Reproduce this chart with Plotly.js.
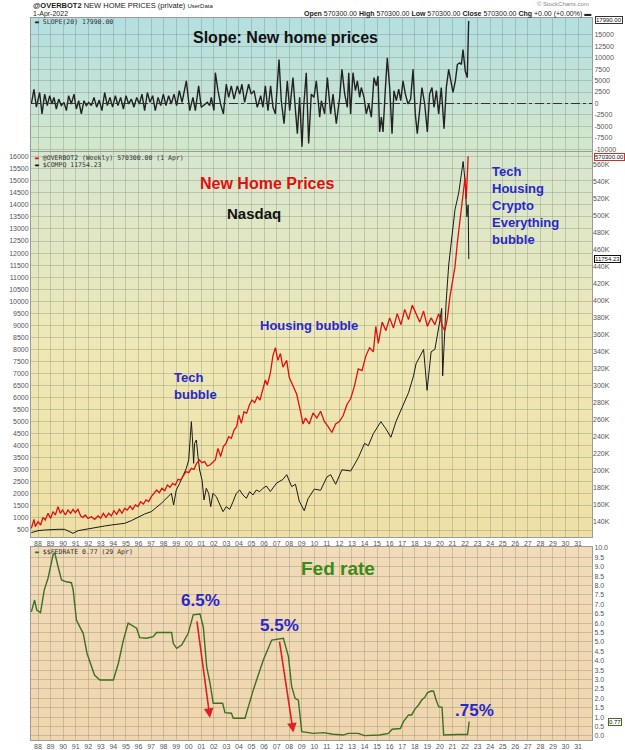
<!DOCTYPE html>
<html><head><meta charset="utf-8">
<script src="https://cdn.plot.ly/plotly-3.0.1.min.js"></script>
<style>html,body{margin:0;padding:0;background:#fff}#chart{width:625px;height:750px}</style>
</head><body><div id="chart"></div>
<script>
// ---------- DATA ----------
const slopeYears = [1987.47,1987.68,1987.87,1988.13,1988.32,1988.53,1988.74,1988.93,1989.11,1989.27,1989.46,1989.65,1989.86,1990.07,1990.26,1990.44,1990.65,1990.87,1991.05,1991.24,1991.45,1991.66,1991.85,1992.03,1992.25,1992.46,1992.67,1992.88,1993.09,1993.31,1993.52,1993.73,1993.94,1994.16,1994.37,1994.58,1994.80,1995.01,1995.22,1995.43,1995.64,1995.86,1996.07,1996.28,1996.49,1996.71,1996.92,1997.13,1997.34,1997.56,1997.77,1997.98,1998.19,1998.40,1998.61,1998.83,1999.04,1999.25,1999.47,
1999.81,2000.08,2000.34,2000.53,2000.79,2001.00,2001.27,2001.48,2001.67,2001.80,2002.01,2002.12,2002.33,2002.54,2002.76,2002.99,2003.18,2003.39,2003.61,2003.87,2004.06,2004.24,2004.45,2004.77,2004.98,2005.20,2005.46,2005.73,2005.91,2006.10,2006.31,2006.52,2006.71,2006.90,2007.19,2007.37,2007.59,2007.85,2008.04,2008.30,2008.44,2008.65,2008.83,2009.02,2009.15,2009.36,2009.55,2009.76,2009.97,2010.16,2010.43,2010.56,2010.82,2011.04,
2011.30,2011.49,2011.75,2012.02,2012.20,2012.42,2012.63,2012.74,2012.89,2013.08,2013.27,2013.43,2013.61,2013.74,2013.96,2014.14,2014.33,2014.54,2014.75,2014.94,2015.07,2015.20,2015.34,2015.47,2015.65,2015.81,2016.00,2016.19,2016.34,2016.53,2016.72,2016.88,2017.06,2017.25,2017.46,2017.67,2017.86,2018.04,2018.20,2018.39,2018.57,2018.79,2019.00,2019.18,2019.37,2019.53,2019.72,2019.90,2020.11,2020.33,2020.51,2020.70,2020.86,2021.04,2021.23,2021.39,2021.57,2021.71,2021.84,2022.02,2022.18,2022.29];
const slopeValues = [-100,3100,-800,2400,-2250,2050,-450,1700,-100,1330,-1200,970,-450,250,-1550,1700,-100,2050,-1200,600,-2250,600,-450,250,-450,1330,-800,750,-1550,2400,-450,1330,-800,1700,-450,1330,-1200,1700,-100,970,-800,1330,-100,2050,-1550,2400,250,1700,-1550,1330,-450,2050,-450,1700,-100,2050,-450,2800,250,
4920,-1545,1330,-1545,3843,-826,-108,250,-467,1330,-1545,6717,2800,-108,-2263,4200,1330,3843,970,3843,2047,4200,250,4200,2047,2800,-826,1690,-826,3843,-1545,3843,-826,-2263,9590,610,-4418,4920,-1545,5640,610,-6573,1330,-9440,-826,6717,-8728,2047,1330,4920,-2980,610,-2263,5640,
-2263,2047,-4418,1330,7435,2047,-826,6717,-2263,6717,2800,4920,1330,3485,1330,-2263,-108,-2980,5640,3843,6000,-6214,-2980,-6214,2800,9950,3485,-6573,2800,610,3125,610,4920,2047,-108,970,7435,-2263,-6573,-826,3485,-108,-6214,2047,3485,-826,2800,-2263,3485,-5495,3485,7435,4920,2410,4920,8500,8870,8512,11745,7076,5640,17990];

const homeYears = [1987.47,1987.68,1987.79,1988.00,1988.21,1988.40,1988.58,1988.80,1989.01,1989.19,1989.38,1989.59,1989.78,1989.96,1990.18,1990.39,1990.60,1990.79,1990.97,1991.18,1991.40,1991.58,1991.77,1991.98,1992.25,1992.51,1992.78,1992.99,1993.20,1993.41,1993.63,1993.84,1994.05,1994.26,1994.48,1994.69,1994.90,1995.11,1995.33,1995.54,1995.75,1995.96,1996.17,1996.39,1996.60,1996.81,1997.02,1997.24,1997.45,1997.66,1997.87,1998.09,1998.30,1998.51,1998.72,1998.93,1999.15,1999.36,1999.57,1999.78,2000.00,2000.21,2000.42,2000.63,2000.85,2001.06,2001.27,2001.48,2001.69,2001.91,2002.12,2002.33,2002.54,2002.76,2002.97,2003.18,2003.39,2003.61,2003.82,2003.98,2004.19,2004.40,2004.61,2004.83,2005.04,2005.25,2005.46,2005.68,2005.89,2006.10,2006.26,
2006.50,2006.70,2006.90,2007.10,2007.30,2007.50,2007.80,2008.00,2008.30,2008.60,2008.90,2009.10,2009.30,2009.60,2009.90,2010.20,2010.50,2010.80,2011.10,2011.40,2011.70,2012.00,2012.30,2012.60,2012.90,2013.20,2013.50,2013.80,2014.10,2014.40,2014.70,2014.90,2015.10,2015.40,2015.70,2016.00,2016.30,2016.60,2016.90,2017.20,2017.50,2017.80,2018.10,2018.40,2018.70,2019.00,2019.30,2019.60,2019.90,2020.20,2020.40,2020.60,2020.80,2021.00,2021.20,2021.40,2021.60,2021.80,2022.00,2022.10,2022.20,2022.25];
const homePrices = [132200,142770,134140,140030,136100,145130,141990,149840,143950,151800,147880,157690,149840,153760,147880,153760,149840,154550,150630,154550,146700,145130,147880,143950,145910,142770,146700,143950,149840,145130,149840,146700,152980,148660,154550,149840,155730,153760,158480,154550,159650,157690,163580,160830,165540,163580,169460,173390,177310,174170,179280,176520,183200,180450,185160,183200,189870,189090,193800,198900,197720,202830,201650,208710,212640,209500,210680,205570,206750,209500,212640,226380,216560,228340,232260,240110,238150,248000,251890,265630,255810,269550,267590,277400,283290,280150,287210,283290,295070,306840,300950,
315000,335000,345000,330000,338000,322000,330000,310000,300000,290000,270000,255000,262000,255000,268000,262000,270000,258000,252000,245000,255000,258000,265000,278000,285000,300000,320000,318000,335000,345000,340000,370000,350000,375000,365000,380000,368000,385000,372000,390000,378000,395000,385000,375000,388000,370000,380000,372000,385000,370000,365000,380000,405000,425000,440000,470000,495000,515000,545000,520000,565000,570300];

const nasdaqYears = [1987.47,1988.00,1988.53,1989.06,1989.59,1990.12,1990.39,1990.79,1991.19,1991.72,1992.25,1992.78,1993.31,1993.84,1994.37,1994.90,1995.43,1995.96,1996.49,1997.02,1997.55,1997.82,1998.09,1998.35,1998.62,1998.80,1999.01,1999.28,1999.54,1999.81,2000.00,2000.13,2000.21,2000.29,2000.39,2000.47,2000.61,2000.74,2000.87,2001.06,2001.22,2001.40,2001.59,2001.75,2001.93,2002.20,2002.46,2002.73,2002.99,2003.26,2003.53,2003.79,2004.06,2004.32,2004.59,2004.85,2005.12,2005.38,2005.65,2005.91,2006.18,
2006.50,2007.00,2007.50,2007.80,2008.20,2008.50,2008.80,2009.20,2009.50,2010.00,2010.50,2011.00,2011.30,2011.70,2012.20,2012.90,2013.50,2014.00,2014.30,2014.70,2015.30,2015.70,2016.10,2016.50,2017.00,2017.50,2017.90,2018.10,2018.70,2018.98,2019.30,2019.60,2020.00,2020.14,2020.22,2020.50,2020.70,2021.00,2021.20,2021.50,2021.85,2022.00,2022.15,2022.25,2022.30];
const nasdaqValues = [390,473,501,529,529,529,473,363,473,529,570,612,667,708,736,778,889,1027,1165,1262,1470,1608,1747,1885,2024,1539,2162,2439,2715,3061,3407,4376,5000,4376,3269,4099,4238,3546,2992,2577,1747,2231,2024,1470,2024,1885,1608,1262,1470,1359,1677,2024,2162,1954,1816,2093,1954,2162,2093,2231,2328,
2100,2450,2600,2800,2300,2400,1700,1300,1800,2200,2150,2700,2800,2400,3000,2950,3500,4100,4000,4500,5000,4700,4350,5000,5600,6200,6900,7400,8000,6300,7900,8000,9200,9700,6900,10000,11500,13000,13800,14500,15800,15000,13500,14000,11754];

const fedYears = [1987.47,1987.73,1987.90,1988.20,1988.50,1988.80,1989.20,1989.33,1989.60,1989.87,1990.26,1990.66,1990.80,1991.06,1991.33,1991.60,1991.90,1992.26,1992.50,1992.92,1994.00,1994.40,1994.80,1995.18,1995.45,1995.85,1996.10,1996.64,1997.17,1997.44,1998.64,1998.77,1999.04,1999.44,1999.96,2000.36,2000.90,2001.16,2001.43,2001.70,2001.95,2002.70,2002.89,2003.40,2003.55,2004.48,2005.14,2005.94,2006.61,2007.54,2007.94,2008.20,2008.47,2008.73,2009.00,2009.93,2010.74,2011.50,2012.30,2012.70,2013.50,2014.00,2015.20,2015.90,2016.20,2016.85,2017.10,2017.50,2017.75,2018.00,2018.30,2018.55,2018.80,2019.00,2019.30,2019.50,2019.70,2019.90,2020.17,2020.30,2021.50,2022.20,2022.25,2022.33];
const fedRates = [6.6,7.23,6.7,6.56,7.77,8.39,9.63,9.75,9.0,8.3,8.2,8.15,7.77,6.17,5.8,5.46,4.4,3.69,3.24,2.98,2.98,3.87,5.1,6.0,5.9,5.73,5.23,5.2,5.28,5.5,5.5,4.93,4.66,4.84,5.46,6.44,6.49,5.81,3.69,2.8,1.74,1.74,1.24,1.21,0.94,0.94,2.45,4.04,5.1,5.2,4.22,2.62,2.0,1.91,0.23,0.14,0.18,0.09,0.05,0.14,0.14,0.02,0.05,0.14,0.36,0.4,0.76,1.12,1.12,1.42,1.65,1.91,2.06,2.3,2.39,2.38,1.91,1.56,1.53,0.05,0.08,0.08,0.33,0.77];

const yearTicks = [1988,1989,1990,1991,1992,1993,1994,1995,1996,1997,1998,1999,2000,2001,2002,2003,2004,2005,2006,2007,2008,2009,2010,2011,2012,2013,2014,2015,2016,2017,2018,2019,2020,2021,2022,2023,2024,2025,2026,2027,2028,2029,2030,2031];
const yearLabels = ['88','89','90','91','92','93','94','95','96','97','98','99','00','01','02','03','04','05','06','07','08','09','10','11','12','13','14','15','16','17','18','19','20','21','22','23','24','25','26','27','28','29','30','31'];
const slopeTicks = [-10000,-7500,-5000,-2500,0,2500,5000,7500,10000,12500,15000];
const slopeTickLabels = ['-10000','-7500','-5000','-2500','0','2500','5000','7500','10000','12500','15000'];
const homeTicks = [140000,160000,180000,200000,220000,240000,260000,280000,300000,320000,340000,360000,380000,400000,420000,440000,460000,480000,500000,520000,540000,560000];
const homeTickLabels = ['140K','160K','180K','200K','220K','240K','260K','280K','300K','320K','340K','360K','380K','400K','420K','440K','460K','480K','500K','520K','540K','560K'];

// ---------- STYLE ----------
const XR = [1987.443, 2032.11];
const GRID = 'rgba(105,110,95,0.28)';
const TF = {family:'Liberation Sans, Arial, sans-serif', size:7, color:'#555'};
const BLUE = '#2828c8';
function grad(c1, c2, c3){
  const s = "<svg xmlns='http://www.w3.org/2000/svg' width='10' height='100' viewBox='0 0 10 100' preserveAspectRatio='none'><defs><linearGradient id='g' x1='0' y1='0' x2='0' y2='1'><stop offset='0' stop-color='"+c1+"'/><stop offset='0.5' stop-color='"+c2+"'/><stop offset='1' stop-color='"+c3+"'/></linearGradient></defs><rect width='10' height='100' fill='url(#g)'/></svg>";
  return 'data:image/svg+xml;charset=utf-8,' + encodeURIComponent(s);
}
const D_TOP = [0.7987, 0.976], D_MID = [0.284, 0.7973], D_BOT = [0.01333, 0.27067];

const xBase = {range:XR, tickvals:yearTicks, ticktext:yearLabels, showgrid:true, gridcolor:GRID, gridwidth:1,
  tickfont:TF, ticks:'', showline:true, mirror:true, linecolor:'#9a9a9a', linewidth:1, zeroline:false, fixedrange:true};

const traces = [
  {x:slopeYears, y:slopeValues, xaxis:'x3', yaxis:'y4', type:'scatter', mode:'lines', line:{color:'#222', width:1.4}, hoverinfo:'skip'},
  {x:nasdaqYears, y:nasdaqValues, xaxis:'x2', yaxis:'y2', type:'scatter', mode:'lines', line:{color:'#1a1a1a', width:1}, hoverinfo:'skip'},
  {x:homeYears, y:homePrices, xaxis:'x2', yaxis:'y3', type:'scatter', mode:'lines', line:{color:'#e01010', width:1.3}, hoverinfo:'skip'},
  {x:fedYears, y:fedRates, xaxis:'x', yaxis:'y', type:'scatter', mode:'lines', line:{color:'#3f6f22', width:1.4}, hoverinfo:'skip'}
];

function px2x(px){return (px-31)/561;}
function py2y(py){return 1-py/750;}
function txt(text, px, py, opt){
  return Object.assign({text:text, x:px2x(px), y:py2y(py), xref:'paper', yref:'paper', showarrow:false,
    xanchor:'left', yanchor:'middle', font:{family:'Liberation Sans, Arial, sans-serif', size:7, color:'#222'}}, opt||{});
}
const BF = (size,color)=>({family:'Liberation Sans, Arial, sans-serif', size:size, color:color, weight:'bold'});
const TAG = (c)=>({xanchor:'center', bgcolor:'#fff', bordercolor:c, borderwidth:1, borderpad:0, font:{family:'Liberation Sans, Arial, sans-serif', size:6, color:'#111'}});

const annotations = [
  txt("<b>@OVERBOT2</b> NEW HOME PRICES (private) <span style='font-size:6px'>UserData</span>", 31, 5, {font:{family:'Liberation Sans, Arial, sans-serif', size:7.5, color:'#222'}}),
  txt("1-Apr-2022", 31, 14),
  txt("© StockCharts.com", 591, 4, {xanchor:'right', font:{family:'Liberation Sans, Arial, sans-serif', size:6, color:'#888'}}),
  txt("<b>Open</b> 570300.00 <b>High</b> 570300.00 <b>Low</b> 570300.00 <b>Close</b> 570300.00 <b>Chg</b> +0.00 (+0.00%) ▬", 593, 14, {xanchor:'right'}),
  txt("<b>Slope: New home prices</b>", 285, 37, {xanchor:'center', font:BF(16,'#111')}),
  txt("<b>New Home Prices</b>", 267, 183, {xanchor:'center', font:BF(16,'#e01010')}),
  txt("<b>Nasdaq</b>", 254, 213, {xanchor:'center', font:BF(15,'#111')}),
  txt("<b>Tech<br>bubble</b>", 172, 386, {font:BF(13,BLUE), align:'left'}),
  txt("<b>Housing bubble</b>", 258, 325, {font:BF(13,BLUE)}),
  txt("<b>Tech<br>Housing<br>Crypto<br>Everything<br>bubble</b>", 490, 162, {yanchor:'top', align:'left', font:BF(13,BLUE)}),
  txt("<b>Fed rate</b>", 338, 568, {xanchor:'center', font:BF(19,'#3a8a1a')}),
  txt("<b>6.5%</b>", 200, 600, {xanchor:'center', font:BF(17,BLUE)}),
  txt("<b>5.5%</b>", 279, 625, {xanchor:'center', font:BF(17,BLUE)}),
  txt("<b>.75%</b>", 474, 710, {xanchor:'center', font:BF(17,BLUE)}),
  txt("<span style='color:#222'>▬</span> SLOPE(20) 17990.00", 33, 22, {font:{family:'DejaVu Sans Mono, monospace', size:6.5, color:'#333'}}),
  txt("<span style='color:#e01010'>▬</span> @OVERBOT2 (Weekly) 570300.00 (1 Apr)", 33, 158, {font:{family:'DejaVu Sans Mono, monospace', size:6.5, color:'#333'}}),
  txt("<span style='color:#111'>▬</span> $COMPQ 11754.23", 33, 165, {font:{family:'DejaVu Sans Mono, monospace', size:6.5, color:'#333'}}),
  txt("<span style='color:#3f6f22'>▬</span> $$FEDRATE 0.77 (29 Apr)", 33, 552, {font:{family:'DejaVu Sans Mono, monospace', size:6.5, color:'#333'}}),
  txt("17990.00", 609, 20, TAG('#333')),
  txt("570300.00", 609, 157.5, TAG('#d03030')),
  txt("11754.23", 607, 259, TAG('#111')),
  txt("0.77", 615, 722, TAG('#3f6f22')),
  {x:2001.69, y:0.96, ax:2000.64, ay:6.17, xref:'x', yref:'y', axref:'x', ayref:'y', showarrow:true, arrowhead:2, arrowsize:1.2, arrowwidth:1.6, arrowcolor:'#e02020', text:''},
  {x:2008.33, y:0.18, ax:2007.21, ay:5.1, xref:'x', yref:'y', axref:'x', ayref:'y', showarrow:true, arrowhead:2, arrowsize:1.2, arrowwidth:1.6, arrowcolor:'#e02020', text:''}
];

const layout = {
  width:625, height:750, margin:{l:31, r:33, t:0, b:0},
  paper_bgcolor:'#ffffff', plot_bgcolor:'rgba(0,0,0,0)', showlegend:false,
  xaxis: Object.assign({}, xBase, {anchor:'y', domain:[0,1]}),
  xaxis2: Object.assign({}, xBase, {anchor:'y2', domain:[0,1]}),
  xaxis3: Object.assign({}, xBase, {anchor:'y4', domain:[0,1], showticklabels:false}),
  yaxis: {domain:D_BOT, anchor:'x', side:'right', range:[-0.213,10.05], dtick:0.5, tick0:0, tickformat:'.1f', showgrid:true, gridcolor:GRID,
    tickfont:TF, ticks:'', showline:true, mirror:true, linecolor:'#9a9a9a', zeroline:false, fixedrange:true},
  yaxis2: {domain:D_MID, anchor:'x2', side:'left', range:[210,16195], dtick:500, tick0:500, tickformat:'d', showgrid:true, gridcolor:GRID,
    tickfont:TF, ticks:'', showline:true, mirror:true, linecolor:'#9a9a9a', zeroline:false, fixedrange:true},
  yaxis3: {overlaying:'y2', anchor:'x2', side:'right', range:[121970,575300], tickvals:homeTicks, ticktext:homeTickLabels, showgrid:false,
    tickfont:TF, ticks:'', zeroline:false, fixedrange:true},
  yaxis4: {domain:D_TOP, anchor:'x3', side:'right', range:[-10350,18640], tickvals:slopeTicks, ticktext:slopeTickLabels, showgrid:true, gridcolor:GRID,
    tickfont:TF, ticks:'', showline:true, mirror:true, linecolor:'#9a9a9a', zeroline:false, fixedrange:true},
  images: [
    {source:grad('#b4dfe1','#c2e2d8','#d3e8cb'), xref:'paper', yref:'paper', x:0, y:D_TOP[1], sizex:1, sizey:D_TOP[1]-D_TOP[0], xanchor:'left', yanchor:'top', sizing:'stretch', layer:'below'},
    {source:grad('#d6e6cf','#eee8b6','#efdfa4'), xref:'paper', yref:'paper', x:0, y:D_MID[1], sizex:1, sizey:D_MID[1]-D_MID[0], xanchor:'left', yanchor:'top', sizing:'stretch', layer:'below'},
    {source:grad('#f1dbb8','#f0d8b2','#efd6ae'), xref:'paper', yref:'paper', x:0, y:D_BOT[1], sizex:1, sizey:D_BOT[1]-D_BOT[0], xanchor:'left', yanchor:'top', sizing:'stretch', layer:'below'}
  ],
  shapes: [
    {type:'line', xref:'x3 domain', yref:'y4', x0:0, x1:1, y0:0, y1:0, line:{color:'#333', width:1, dash:'dashdot'}}
  ],
  annotations: annotations
};

Plotly.newPlot('chart', traces, layout, {staticPlot:true, displayModeBar:false});
</script>
</body></html>
